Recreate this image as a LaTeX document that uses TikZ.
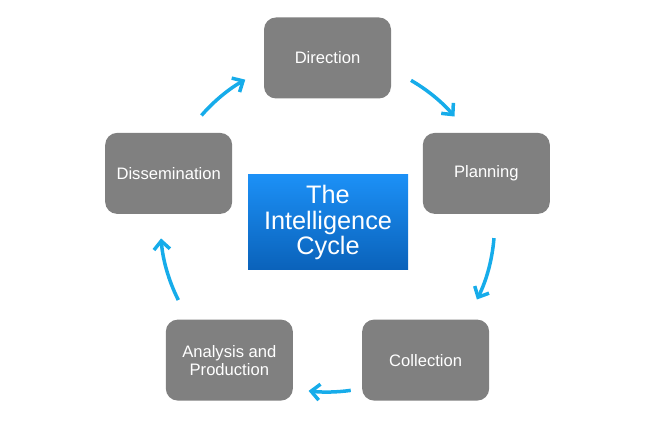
\documentclass[tikz,border=0pt]{standalone}
\usepackage{fontspec}
\setmainfont{Liberation Sans}
\usetikzlibrary{arrows.meta}

\definecolor{stagegray}{RGB}{128,128,128}
\definecolor{flowblue}{RGB}{22,172,234}
\definecolor{hubtop}{RGB}{28,144,246}
\definecolor{hubbottom}{RGB}{10,98,186}

\begin{document}
\begin{tikzpicture}[x=1pt, y=1pt, every node/.style={font=\fontsize{16.6}{18}\selectfont}, stage/.style={fill=stagegray,rounded corners=12pt,text=white,align=center,minimum width=127pt,minimum height=81pt,inner sep=0pt}, hubbox/.style={top color=hubtop,bottom color=hubbottom,text=white,align=center,minimum width=160pt,minimum height=95pt,inner sep=0pt,font=\fontsize{25.3}{25.5}\selectfont}, flow/.style={draw=flowblue,line width=3.5pt,-{Straight Barb[length=8.5pt,width=16pt]}}]
\useasboundingbox (0,0) rectangle (665,422);
\coordinate (hub) at (327.5,197);
\node[hubbox] (cycle) at (328,199.5) {The\\Intelligence\\Cycle};
% the five stages, clockwise from the top
\node[stage] (direction) at ([shift={(90:167)}]hub) {Direction};
\node[stage] (planning) at ([shift={(18:167)}]hub) {Planning};
\node[stage] (collection) at ([shift={(-54:167)}]hub) {Collection};
\node[stage] (analysis) at ([shift={(-126:167)}]hub) {Analysis and\\Production};
\node[stage] (dissemination) at ([shift={(162:167)}]hub) {Dissemination};
% arrows round the hub
\draw[flow] ([shift={(60:167)}]hub) arc[start angle=60, end angle=40.5, radius=167];
\draw[flow] ([shift={(-4.5:167)}]hub) arc[start angle=-4.5, end angle=-26.5, radius=167];
\draw[flow] ([shift={(-82:167)}]hub) arc[start angle=-82, end angle=-96.5, radius=167];
\draw[flow] ([shift={(-153.3:167)}]hub) arc[start angle=-153.3, end angle=-175.4, radius=167];
\draw[flow] ([shift={(139:167)}]hub) arc[start angle=139, end angle=119.5, radius=167];
\end{tikzpicture}
\end{document}
